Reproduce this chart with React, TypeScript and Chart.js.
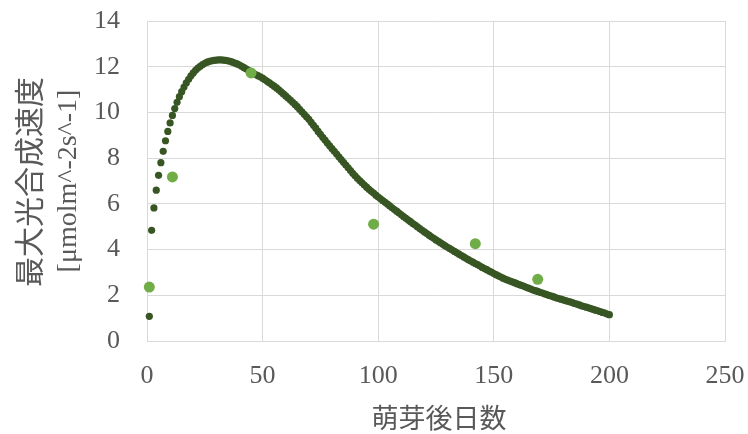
import React, { useEffect, useRef } from "react";
import { Chart, registerables } from "chart.js";

Chart.register(...registerables);

// Model curve: one value per day, starting at day 1 (days 1..200)
const curveStartDay = 1;
const modelValues = [
  1.08, 4.84, 5.82, 6.6, 7.25, 7.8, 8.3, 8.76, 9.17, 9.54,
  9.87, 10.17, 10.44, 10.69, 10.91, 11.11, 11.29, 11.45, 11.6, 11.73,
  11.84, 11.94, 12.02, 12.09, 12.15, 12.2, 12.23, 12.26, 12.28, 12.29,
  12.3, 12.3, 12.29, 12.28, 12.26, 12.23, 12.2, 12.16, 12.12, 12.07,
  12.02, 11.96, 11.9, 11.83, 11.76, 11.71, 11.66, 11.61, 11.56, 11.5,
  11.43, 11.36, 11.29, 11.22, 11.15, 11.07, 10.99, 10.9, 10.81, 10.72,
  10.63, 10.54, 10.44, 10.35, 10.25, 10.14, 10.03, 9.92, 9.81, 9.7,
  9.57, 9.44, 9.31, 9.17, 9.04, 8.91, 8.79, 8.66, 8.54, 8.42,
  8.3, 8.18, 8.06, 7.94, 7.82, 7.7, 7.58, 7.46, 7.34, 7.23,
  7.12, 7.02, 6.92, 6.82, 6.73, 6.64, 6.55, 6.47, 6.38, 6.3,
  6.22, 6.14, 6.07, 5.99, 5.91, 5.83, 5.75, 5.68, 5.6, 5.52,
  5.44, 5.37, 5.29, 5.22, 5.14, 5.07, 4.99, 4.92, 4.84, 4.77,
  4.7, 4.63, 4.56, 4.49, 4.42, 4.36, 4.29, 4.23, 4.16, 4.1,
  4.04, 3.98, 3.92, 3.86, 3.8, 3.74, 3.68, 3.62, 3.56, 3.5,
  3.45, 3.39, 3.34, 3.28, 3.22, 3.17, 3.12, 3.06, 3.01, 2.95,
  2.9, 2.85, 2.8, 2.75, 2.7, 2.66, 2.62, 2.59, 2.55, 2.51,
  2.47, 2.43, 2.39, 2.35, 2.31, 2.27, 2.23, 2.2, 2.17, 2.13,
  2.1, 2.06, 2.03, 1.99, 1.96, 1.93, 1.89, 1.86, 1.83, 1.8,
  1.77, 1.74, 1.71, 1.68, 1.64, 1.61, 1.58, 1.54, 1.51, 1.48,
  1.45, 1.42, 1.38, 1.35, 1.32, 1.29, 1.25, 1.22, 1.18, 1.15,
];

// Observed measurements
const observedDays = [1, 11, 45, 98, 142, 169];
const observedValues = [2.36, 7.18, 11.73, 5.11, 4.26, 2.7];

// Axes
const xMin = 0;
const xMax = 250;
const xStep = 50;
const yMin = 0;
const yMax = 14;
const yStep = 2;

const yTitleLine1 = "最大光合成速度";
const yTitleLine2 = "[μmolm^-2s^-1]";
const xTitle = "萌芽後日数";

const textColor = "#595959";
const serif = '"Liberation Serif", "Times New Roman", serif';
const cjk = '"Noto Sans CJK JP", "Noto Sans", sans-serif';

const titlePlugin = {
  id: "customTitles",
  afterDraw(chart: any) {
    const { ctx, chartArea } = chart;
    const cy = (chartArea.top + chartArea.bottom) / 2;
    ctx.save();
    ctx.fillStyle = textColor;
    ctx.textAlign = "center";
    ctx.textBaseline = "middle";
    ctx.save();
    ctx.translate(29, cy + 1);
    ctx.rotate(-Math.PI / 2);
    ctx.font = `30px ${cjk}`;
    ctx.fillText(yTitleLine1, 0, 0);
    ctx.restore();
    ctx.save();
    ctx.translate(69, cy);
    ctx.rotate(-Math.PI / 2);
    ctx.font = `28px ${serif}`;
    ctx.fillText(yTitleLine2, 0, 0);
    ctx.restore();
    ctx.font = `27px ${cjk}`;
    ctx.fillText(xTitle, (chartArea.left + chartArea.right) / 2 + 3, 418);
    ctx.restore();
  },
};

export default function App() {
  const ref = useRef<HTMLCanvasElement | null>(null);

  useEffect(() => {
    document.body.style.margin = "0";
    if (!ref.current) return;
    const modelPoints = modelValues.map((v, i) => ({ x: curveStartDay + i, y: v }));
    const observedPoints = observedDays.map((d, i) => ({ x: d, y: observedValues[i] }));

    const chart = new Chart(ref.current, {
      type: "scatter",
      data: {
        datasets: [
          {
            label: "observed",
            data: observedPoints,
            backgroundColor: "#70ad47",
            borderColor: "#70ad47",
            pointRadius: 5.5,
            borderWidth: 0,
            clip: false,
          } as any,
          {
            label: "model",
            data: modelPoints,
            backgroundColor: "#375623",
            borderColor: "#375623",
            pointRadius: 3.6,
            borderWidth: 0,
            clip: false,
          } as any,
        ],
      },
      options: {
        animation: false,
        responsive: false,
        maintainAspectRatio: false,
        layout: { padding: { left: 0, right: 23, top: 21, bottom: 0 } },
        plugins: {
          legend: { display: false },
          tooltip: { enabled: false },
        },
        scales: {
          x: {
            type: "linear",
            min: xMin,
            max: xMax,
            ticks: {
              stepSize: xStep,
              color: textColor,
              font: { family: serif, size: 26 },
              padding: 20,
            },
            grid: { color: "#d9d9d9", drawTicks: false, lineWidth: 1 },
            border: { color: "#d9d9d9" },
            afterFit(scale: any) {
              scale.height = 93;
              scale.paddingLeft = 0;
              scale.paddingRight = 0;
            },
          },
          y: {
            type: "linear",
            min: yMin,
            max: yMax,
            ticks: {
              stepSize: yStep,
              color: textColor,
              font: { family: serif, size: 26 },
              padding: 27,
            },
            grid: { color: "#d9d9d9", drawTicks: false, lineWidth: 1 },
            border: { color: "#d9d9d9" },
            afterFit(scale: any) {
              scale.width = 147;
              scale.paddingTop = 0;
              scale.paddingBottom = 0;
            },
          },
        },
      },
      plugins: [titlePlugin],
    });
    return () => chart.destroy();
  }, []);

  return (
    <div style={{ width: 748, height: 434 }}>
      <canvas ref={ref} width={748} height={434} style={{ display: "block" }} />
    </div>
  );
}
